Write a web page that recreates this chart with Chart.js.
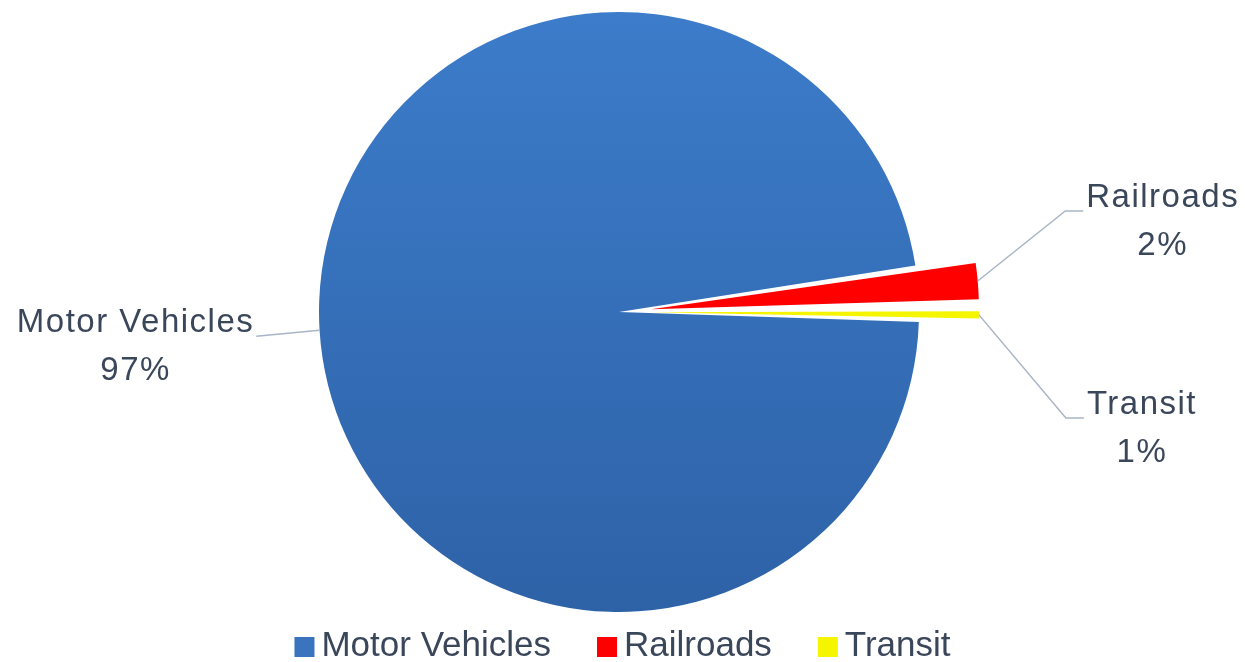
<!DOCTYPE html>
<html>
<head>
<meta charset="utf-8">
<script src="https://cdn.jsdelivr.net/npm/chart.js@4.4.0/dist/chart.umd.min.js"></script>
<style>
  html, body { margin: 0; padding: 0; background: #fff; }
  #wrap { width: 1245px; height: 662px; }
</style>
</head>
<body>
<div id="wrap"><canvas id="chart"></canvas></div>
<script>
// Data
const categories = ['Motor Vehicles', 'Railroads', 'Transit'];
const shares = [97.0, 2.2, 0.8];
const sliceColors = ['#3a76c2', '#fe0000', '#f5f500'];
const explode = [0, 129, 123];
// where each data label sits, relative to the slice's outer point
const labelShift = [
  { dx: -184, dy: -7, side: 'left' },
  { dx: 185, dy: -83, side: 'right' },
  { dx: 163, dy: 90, side: 'right' }
];
const pieRadius = 300;
const textColor = '#3a4659';

// Data labels with leader lines, plus the legend row
const sliceLabels = {
  id: 'sliceLabels',
  afterDatasetsDraw(chart) {
    const ctx = chart.ctx;
    const meta = chart.getDatasetMeta(0);
    const total = shares.reduce((a, b) => a + b, 0);
    ctx.save();
    ctx.font = '33px "Liberation Sans", Arial, sans-serif';
    ctx.letterSpacing = '1.5px';
    ctx.fillStyle = textColor;
    ctx.strokeStyle = '#a9b5c6';
    ctx.lineWidth = 1.5;
    ctx.textAlign = 'center';
    ctx.textBaseline = 'middle';
    meta.data.forEach((arc, i) => {
      const p = arc.getProps(['x', 'y', 'startAngle', 'endAngle', 'outerRadius']);
      const mid = (p.startAngle + p.endAngle) / 2;
      const off = (explode[i] || 0) / 4;
      const fix = 1 - Math.sin(Math.min(Math.PI, p.endAngle - p.startAngle));
      const r = p.outerRadius + off * fix + off;
      const ax = p.x + Math.cos(mid) * r;
      const ay = p.y + Math.sin(mid) * r;
      const s = labelShift[i];
      const tx = ax + s.dx, ty = ay + s.dy;
      const name = categories[i];
      const w = ctx.measureText(name).width;
      const lineY = ty + 13;
      ctx.beginPath();
      ctx.moveTo(ax, ay);
      if (s.side === 'left') {
        ctx.lineTo(tx + w / 2 + 2, lineY);
      } else {
        ctx.lineTo(tx - w / 2 - 21, lineY);
        ctx.lineTo(tx - w / 2 - 3, lineY);
      }
      ctx.stroke();
      ctx.fillText(name, tx, ty);
      ctx.fillText(Math.round(shares[i] / total * 100) + '%', tx, ty + 48);
    });
    ctx.restore();
  },
  afterDraw(chart) {
    // legend: square + name, centred under the pie
    const ctx = chart.ctx;
    const box = 20, gap = 7, itemGap = 46, midY = 646;
    ctx.save();
    ctx.font = '35px "Liberation Sans", Arial, sans-serif';
    ctx.textBaseline = 'middle';
    ctx.textAlign = 'left';
    const widths = categories.map(c => ctx.measureText(c).width);
    const full = widths.reduce((a, w) => a + box + gap + w, 0) + itemGap * (categories.length - 1);
    let x = (chart.width - full) / 2;
    categories.forEach((c, i) => {
      ctx.fillStyle = i === 0 ? '#3a74bf' : sliceColors[i];
      ctx.fillRect(x, midY - 9, box, 20);
      ctx.fillStyle = textColor;
      ctx.fillText(c, x + box + gap, midY);
      x += box + gap + widths[i] + itemGap;
    });
    ctx.restore();
  }
};

new Chart(document.getElementById('chart'), {
  type: 'pie',
  data: {
    labels: categories,
    datasets: [{
      data: shares,
      backgroundColor(c) {
        const area = c.chart.chartArea;
        if (c.dataIndex !== 0 || !area) return sliceColors[c.dataIndex];
        const cy = (area.top + area.bottom) / 2;
        const g = c.chart.ctx.createLinearGradient(0, cy - pieRadius, 0, cy + pieRadius);
        g.addColorStop(0, '#3c7cca');
        g.addColorStop(1, '#2e62a7');
        return g;
      },
      borderWidth: 0,
      offset: explode,
      radius: pieRadius
    }]
  },
  options: {
    responsive: true,
    maintainAspectRatio: false,
    animation: false,
    rotation: 91.9,
    layout: { padding: { top: 12, right: 7, left: 0, bottom: 50 } },
    plugins: {
      tooltip: { enabled: false },
      legend: { display: false }
    }
  },
  plugins: [sliceLabels]
});
</script>
</body>
</html>
